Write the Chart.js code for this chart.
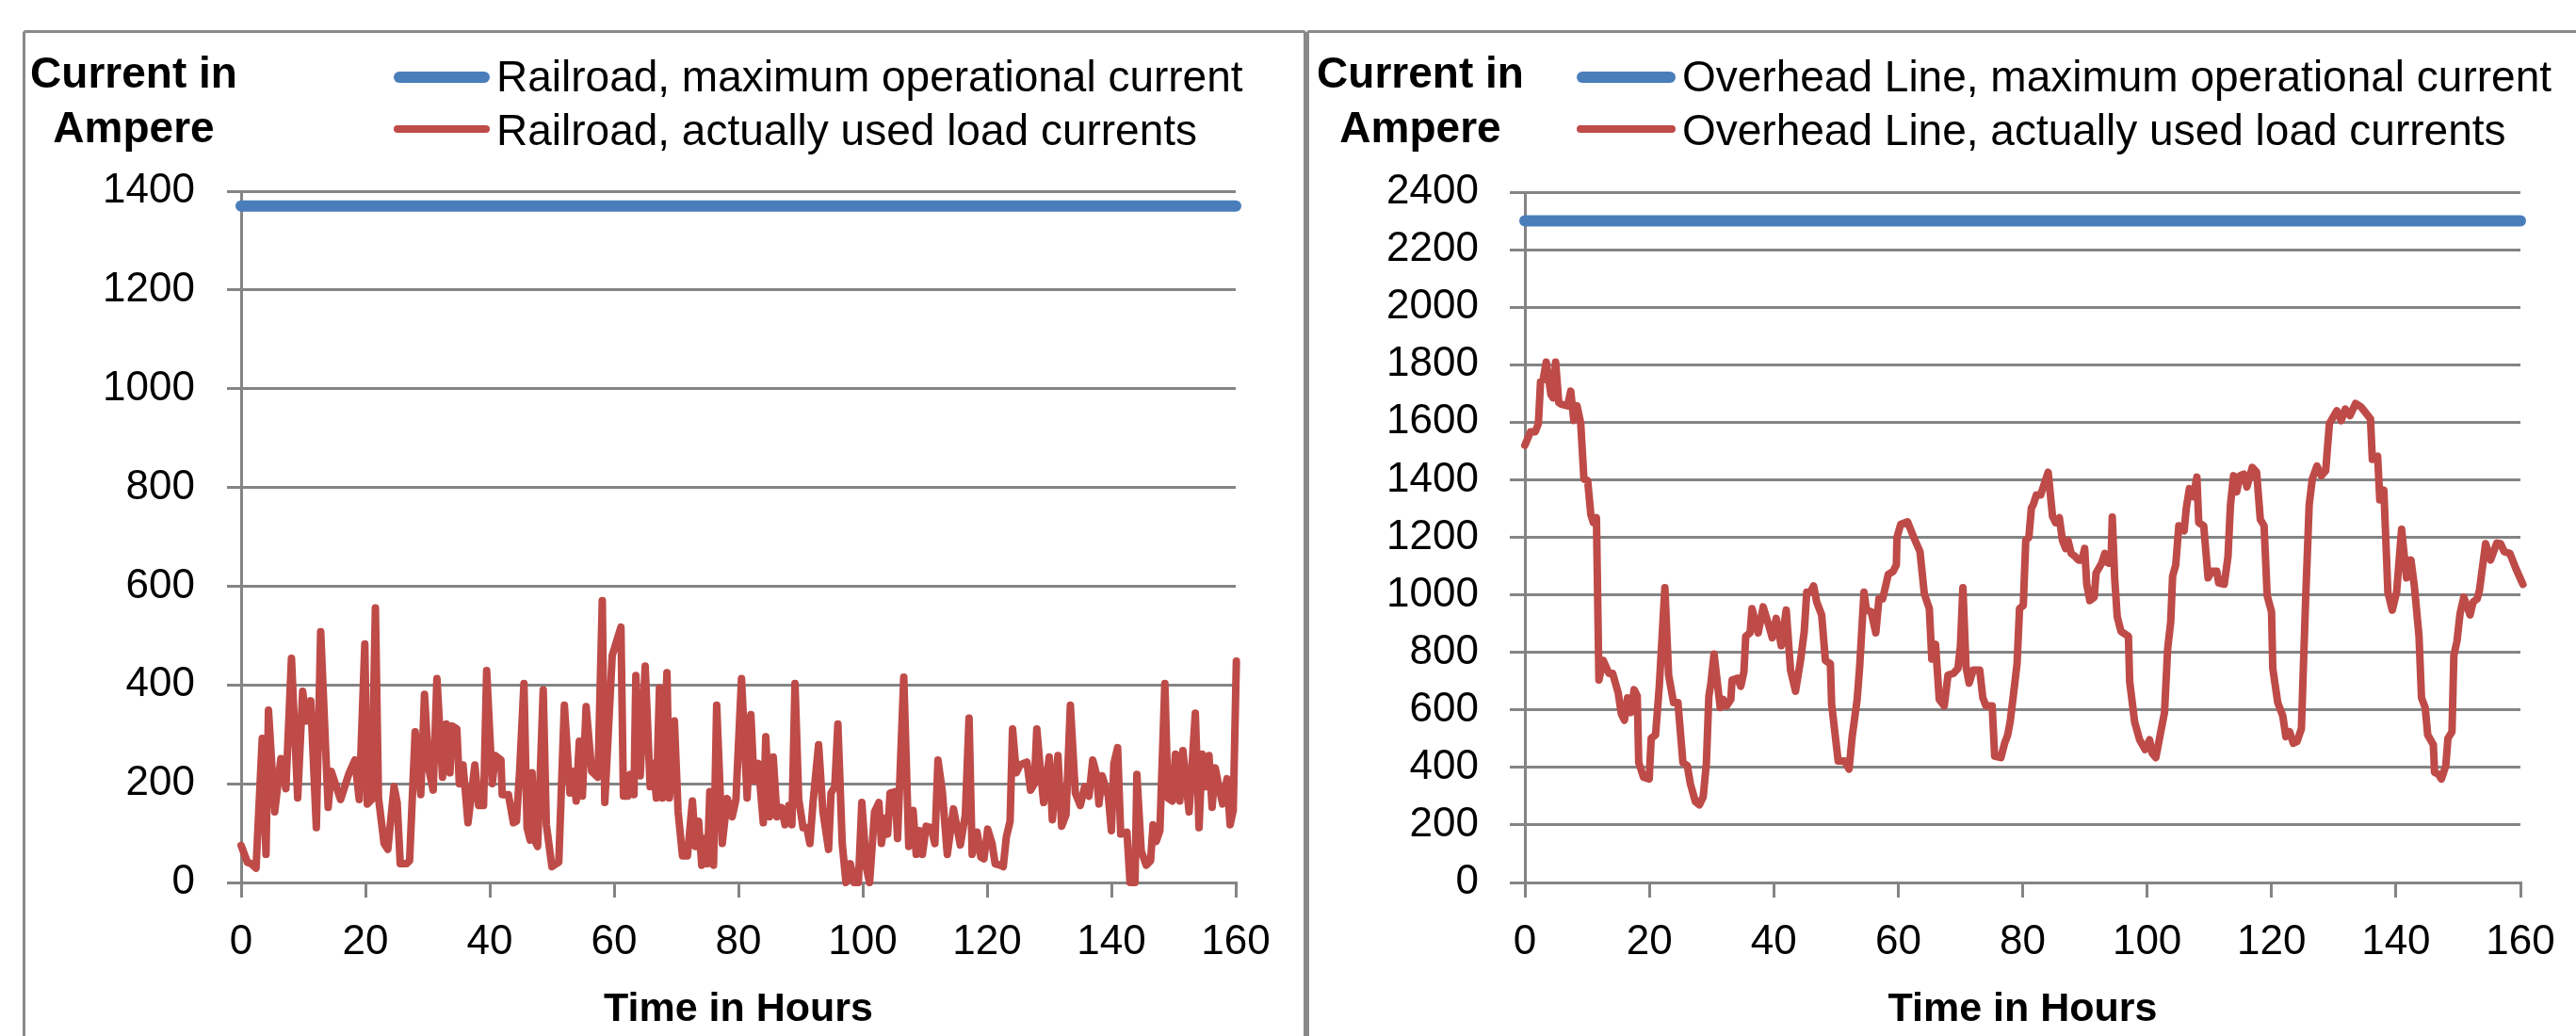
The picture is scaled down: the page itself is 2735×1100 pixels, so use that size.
<!DOCTYPE html>
<html>
<head>
<meta charset="utf-8">
<script src="https://cdn.jsdelivr.net/npm/chart.js@4.4.1/dist/chart.umd.min.js"></script>
<style>
html,body{margin:0;padding:0;background:#fff;overflow:hidden;}
#wrap{position:relative;width:2735px;height:1100px;background:#fff;}
canvas{position:absolute;top:0;}
#c1{left:0;}
#c2{left:1387px;}
</style>
</head>
<body>
<div id="wrap">
<canvas id="c1" width="1387" height="1100"></canvas>
<canvas id="c2" width="1348" height="1100"></canvas>
</div>
<script>
// ---------- texts ----------
const yAxisTitle = ['Current in', 'Ampere'];
const xAxisTitle = 'Time in Hours';
const railLegend = ['Railroad, maximum operational current', 'Railroad, actually used load currents'];
const ohLegend = ['Overhead Line, maximum operational current', 'Overhead Line, actually used load currents'];

// ---------- axis ranges ----------
const hourRange = [0, 160];
const hourStep = 20;
const railRange = [0, 1400];
const ohRange = [0, 2400];
const currentStep = 200;

// ---------- data ----------
const railMaxCurrent = 1370;
const ohMaxCurrent = 2300;
const maxLineHours = [0, 160];

const railHours = [0,1.0,1.6,2.4,3.4,4.0,4.4,5.4,6.4,7.2,8.1,9.1,9.9,10.5,11.2,12.1,12.8,14.0,14.5,16.0,17.3,18.3,19.0,19.9,20.3,21.0,21.6,22.1,23.0,23.6,24.6,25.1,25.6,26.6,27.1,28.0,28.9,29.5,30.2,30.9,31.5,32.4,33.0,33.6,33.9,34.7,35.1,35.7,36.5,37.6,38.2,39.0,39.5,40.4,40.9,41.8,42.0,43.0,43.8,44.3,44.8,45.5,46.0,46.5,46.8,47.2,47.7,48.6,49.1,50.0,51.1,52.0,52.9,53.5,53.9,54.4,54.9,55.5,56.4,57.4,58.1,58.5,59.7,61.1,61.5,62.2,62.6,63.2,63.5,64.2,65.0,65.8,66.3,66.8,67.3,67.8,68.5,68.9,69.7,70.3,71.0,71.8,72.6,73.1,73.6,74.1,74.6,75.0,75.4,76.0,76.5,77.4,78.2,79.0,79.6,80.5,81.4,82.0,82.5,83.2,84.0,84.4,85.0,85.6,86.2,86.9,87.5,88.1,88.6,89.1,89.7,90.4,91.0,91.5,92.0,92.9,93.6,94.5,94.9,95.5,96.0,96.7,97.3,98.0,98.6,99.3,99.85,100.6,101.1,101.9,102.6,103.0,103.6,104.0,104.4,105.2,105.6,106.6,107.4,108.1,108.6,109.1,109.6,110.2,111.0,111.6,112.1,112.8,113.6,114.6,115.7,116.5,117.1,117.6,118.4,119.0,119.5,120.1,120.8,121.3,122.1,122.6,123.1,123.7,124.1,124.7,125.3,126.4,127.0,127.6,128.0,128.6,129.1,130.0,130.5,131.4,132.0,132.7,133.4,134.2,135.0,135.7,136.4,137.0,137.6,138.0,138.5,139.5,140.0,140.4,141.0,141.5,142.5,143.0,143.8,144.1,144.8,145.6,146.3,146.7,147.2,147.8,148.6,149.1,149.8,150.3,151.0,151.5,152.5,153.5,154.1,154.6,155.2,155.7,156.2,156.7,157.4,157.9,158.6,159.1,159.6,160.1,160.7];
const railLoad = [75,41,38,29,292,57,349,143,251,190,454,171,387,327,368,111,508,152,225,168,219,248,168,483,159,168,556,171,79,67,194,162,38,38,44,305,178,381,229,187,413,213,321,222,317,311,200,238,121,238,156,156,429,200,257,248,178,178,121,124,225,403,111,86,222,86,73,390,117,32,41,359,181,225,165,286,175,356,225,213,571,162,460,517,175,175,219,178,419,216,438,194,241,171,394,171,425,171,327,143,54,54,165,73,124,35,89,38,184,35,359,79,170,133,168,413,171,340,206,241,121,295,133,254,133,152,117,156,117,403,168,111,111,79,162,279,143,67,181,194,321,79,0,38,0,0,162,29,0,143,162,79,130,98,181,184,89,416,73,146,57,105,57,114,111,79,248,184,57,149,76,137,333,57,102,51,48,108,79,38,35,32,92,124,311,222,238,244,187,200,311,225,162,254,127,257,114,137,359,181,156,194,175,248,219,159,216,175,105,241,273,98,102,0,0,219,64,35,44,117,83,105,403,171,165,260,165,267,143,343,111,260,194,257,152,232,187,159,210,117,146,448,149];

const ohHours = [0,0.9,1.67,2.17,2.52,2.93,3.43,4.19,4.54,4.94,5.45,5.95,6.86,7.37,7.87,8.38,8.98,9.49,10.09,10.6,11.0,11.5,11.9,12.6,13.5,14.1,15.0,15.5,16.0,16.5,17.05,17.56,18.06,18.3,19.07,19.98,20.3,21.0,21.6,22.5,23.1,23.9,24.6,25.4,26.1,26.6,27.4,28.05,28.66,29.16,29.57,29.9,30.4,31.4,31.9,32.4,33.1,33.3,34.2,34.7,35.2,35.5,36.2,36.5,37.5,38.3,39.25,39.76,40.4,41.2,42.0,42.7,43.5,44.3,44.9,45.3,45.9,46.4,46.9,47.7,48.3,49.1,49.3,50.35,51.4,52.1,52.6,53.4,53.8,54.0,54.5,54.9,55.65,56.4,56.9,57.5,58.4,59.2,59.7,59.8,60.4,61.5,62.5,63.5,64.2,65.0,65.4,66.0,66.6,67.4,68.0,68.9,69.6,70.0,70.4,70.9,71.4,72.05,73.1,73.6,74.1,75.1,75.5,76.5,77.1,77.6,78.0,78.5,79.1,79.5,80.1,80.5,81.0,81.4,81.7,82.2,82.9,83.4,84.1,84.8,85.3,85.9,86.4,86.9,87.3,87.8,88.45,88.96,89.5,89.97,90.3,90.8,91.5,91.8,92.7,93.2,93.75,94.2,94.4,94.8,95.2,95.8,97.0,97.2,98.0,98.8,99.7,100.4,100.8,101.4,102.1,102.8,103.3,103.8,104.1,104.6,105.1,105.96,106.3,106.8,107.4,108.0,108.3,109.1,109.8,110.4,111.2,111.5,112.4,113.0,113.4,113.9,114.4,114.9,115.55,116.05,116.9,117.6,118.2,118.8,119.3,120.0,120.2,121.0,121.8,122.3,122.9,123.5,124.1,124.8,125.1,125.5,126.05,126.55,127.3,128.0,128.7,129.3,130.5,131.2,131.85,132.6,133.5,134.4,135.1,135.9,136.2,137.05,137.4,138.05,138.7,139.4,140.1,140.9,141.7,142.4,142.95,143.7,144.1,144.7,145.1,146.0,146.2,146.8,147.3,148.0,148.35,149.0,149.3,149.8,150.3,150.9,151.9,152.4,153.05,153.4,154.4,155.2,156.2,156.8,157.4,158.3,159.35,160.4,161.1];
const ohLoad = [1520,1567,1567,1595,1741,1747,1809,1696,1685,1809,1668,1662,1657,1708,1606,1657,1595,1403,1397,1279,1251,1268,704,772,727,727,659,586,564,642,591,670,648,417,366,360,501,513,682,1025,721,625,625,417,406,343,281,270,298,411,648,693,794,608,636,614,636,704,710,682,732,856,868,952,868,958,890,851,918,823,947,738,665,772,873,1009,1009,1031,975,930,772,760,620,422,422,394,507,636,749,823,1009,947,941,868,986,986,1071,1082,1104,1200,1245,1254,1200,1150,1003,952,777,828,636,614,721,727,744,823,1025,749,693,738,738,642,614,614,439,434,484,513,560,650,760,952,963,1189,1200,1302,1313,1347,1347,1381,1426,1273,1251,1268,1189,1161,1189,1144,1133,1121,1121,1161,1037,980,992,1076,1110,1144,1110,1110,1270,1054,924,873,856,698,558,496,462,496,450,434,513,591,811,907,1065,1104,1240,1223,1302,1369,1341,1409,1251,1240,1059,1082,1082,1042,1037,1133,1313,1414,1358,1414,1420,1375,1443,1426,1262,1240,997,941,744,625,580,507,524,484,490,535,738,997,1313,1403,1448,1414,1431,1595,1640,1606,1646,1623,1665,1653,1634,1612,1471,1482,1330,1364,1009,947,1009,1228,1059,1121,1031,856,642,608,513,479,383,377,360,405,501,524,789,839,935,992,930,975,986,1014,1178,1121,1180,1178,1150,1144,1087,1037,1121];

// ---------- styling ----------
const FONT = '"Liberation Sans", Arial, sans-serif';
const GRID = '#848484';
const FRAME = '#898989';
const BLUE = '#4A7EBB';
const RED = '#BE4B48';

const panelDecor = {
  id: 'panelDecor',
  beforeDraw(chart, args, o) {
    const ctx = chart.ctx;
    ctx.save();
    ctx.strokeStyle = FRAME;
    ctx.lineWidth = 3;
    ctx.beginPath();
    o.frame.forEach(s => { ctx.moveTo(s[0], s[1]); ctx.lineTo(s[2], s[3]); });
    ctx.stroke();
    ctx.restore();
  },
  afterDraw(chart, args, o) {
    const ctx = chart.ctx;
    ctx.save();
    ctx.fillStyle = '#000';
    ctx.textBaseline = 'alphabetic';
    ctx.textAlign = 'center';
    ctx.font = 'bold 46px ' + FONT;
    o.title.forEach((t, i) => ctx.fillText(t, o.titleX, o.titleBase[i]));
    ctx.textAlign = 'left';
    ctx.font = '46px ' + FONT;
    chart.data.datasets.forEach((ds, i) => {
      const y = o.legendY[i];
      const w = ds.borderWidth;
      ctx.strokeStyle = ds.borderColor;
      ctx.lineWidth = w;
      ctx.lineCap = 'round';
      ctx.beginPath();
      ctx.moveTo(o.legendX0 + w / 2, y);
      ctx.lineTo(o.legendX1 - w / 2, y);
      ctx.stroke();
      ctx.fillText(ds.label, o.legendTextX, o.legendBase[i]);
    });
    ctx.restore();
  }
};

function makeChart(canvasId, cfg) {
  return new Chart(document.getElementById(canvasId), {
    type: 'line',
    data: {
      datasets: [
        {
          label: cfg.legend[0],
          data: maxLineHours.map(h => ({x: h, y: cfg.maxValue})),
          borderColor: BLUE, borderWidth: 12, borderCapStyle: 'round',
          pointRadius: 0, tension: 0, clip: false
        },
        {
          label: cfg.legend[1],
          data: cfg.hours.map((h, i) => ({x: h, y: cfg.load[i]})),
          borderColor: RED, borderWidth: 8, borderJoinStyle: 'round', borderCapStyle: 'round',
          pointRadius: 0, tension: 0, clip: false
        }
      ]
    },
    options: {
      responsive: false,
      animation: false,
      devicePixelRatio: 1,
      layout: {padding: {left: 0, right: cfg.padRight, top: cfg.padTop, bottom: 0}},
      plugins: {
        legend: {display: false},
        tooltip: {enabled: false},
        panelDecor: cfg.decor
      },
      scales: {
        x: {
          type: 'linear',
          min: hourRange[0], max: hourRange[1],
          ticks: {stepSize: hourStep, padding: 21, color: '#000', maxRotation: 0, autoSkip: false,
                  font: {family: FONT, size: 44}, callback: v => String(v)},
          grid: {display: true, drawOnChartArea: false, drawTicks: true, tickLength: 16, color: GRID, lineWidth: 3},
          border: {display: true, color: GRID, width: 3},
          title: {display: true, text: xAxisTitle, color: '#000',
                  font: {family: FONT, size: 43, weight: 'bold'}, padding: {top: 0, bottom: 2}},
          afterFit(s) { s.height = 163; }
        },
        y: {
          min: cfg.range[0], max: cfg.range[1],
          ticks: {stepSize: currentStep, padding: cfg.yPad, color: '#000', autoSkip: false,
                  font: {family: FONT, size: 44}, callback: v => String(v)},
          grid: {display: true, drawTicks: true, tickLength: cfg.yTick, color: GRID, lineWidth: 3},
          border: {display: true, color: GRID, width: 3},
          afterFit(s) { s.width = cfg.yWidth; }
        }
      }
    },
    plugins: [panelDecor]
  });
}

makeChart('c1', {
  legend: railLegend, maxValue: railMaxCurrent, hours: railHours, load: railLoad, range: railRange,
  padRight: 75, padTop: 203, yWidth: 256, yPad: 34, yTick: 15,
  decor: {
    frame: [[25.5, 33.5, 25.5, 1110], [25.5, 33.5, 1385.5, 33.5], [1385.5, 33.5, 1385.5, 1110]],
    title: yAxisTitle, titleX: 142, titleBase: [93, 151],
    legendX0: 418, legendX1: 520, legendTextX: 527, legendY: [82, 137], legendBase: [97, 154]
  }
});

makeChart('c2', {
  legend: ohLegend, maxValue: ohMaxCurrent, hours: ohHours, load: ohLoad, range: ohRange,
  padRight: 59, padTop: 204, yWidth: 232, yPad: 33, yTick: 16,
  decor: {
    frame: [[1.5, 33.5, 1.5, 1110], [1.5, 33.5, 1360, 33.5]],
    title: yAxisTitle, titleX: 121, titleBase: [93, 151],
    legendX0: 287, legendX1: 392, legendTextX: 399, legendY: [82, 137], legendBase: [97, 154]
  }
});
</script>
</body>
</html>
